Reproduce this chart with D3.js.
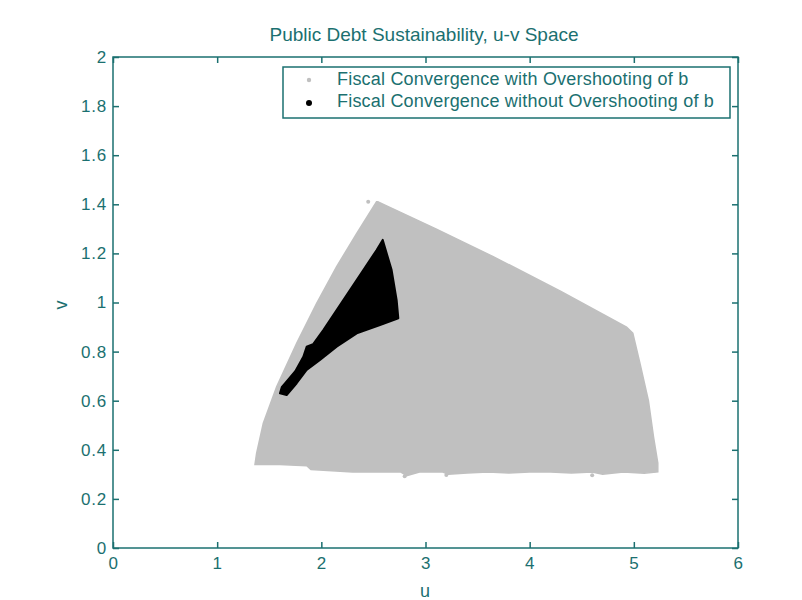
<!DOCTYPE html>
<html><head><meta charset="utf-8">
<script src="https://cdn.jsdelivr.net/npm/d3@7"></script>
<style>body{margin:0;background:#fff;} text{font-family:"Liberation Sans",Arial,sans-serif;}</style>
</head><body>
<svg id="chart" width="802" height="600"></svg>
<script>
// ---- data ----
const xTicks = [0,1,2,3,4,5,6];
const yTicks = [0,0.2,0.4,0.6,0.8,1,1.2,1.4,1.6,1.8,2];
const yTickLabels = ["0","0.2","0.4","0.6","0.8","1","1.2","1.4","1.6","1.8","2"];
const seriesNames = ["Fiscal Convergence with Overshooting of b","Fiscal Convergence without Overshooting of b"];
// boundary of the "with overshooting" point cloud (u, v)
const grayU = [2.545,3.10,3.65,4.30,4.93,4.99,5.06,5.14,5.19,5.23,5.23,5.10,4.90,4.70,4.60,4.40,4.20,4.00,3.80,3.60,3.40,3.22,3.16,2.95,2.82,2.76,2.50,2.30,2.10,1.90,1.86,1.60,1.363,1.379,1.443,1.571,1.763,1.955,2.147,2.34,2.53];
const grayV = [1.410,1.300,1.187,1.045,0.900,0.875,0.750,0.600,0.450,0.346,0.310,0.305,0.310,0.300,0.310,0.305,0.310,0.310,0.305,0.310,0.305,0.300,0.310,0.310,0.295,0.310,0.310,0.310,0.315,0.320,0.335,0.340,0.340,0.386,0.508,0.657,0.834,0.997,1.146,1.282,1.410];
// stray points of the "with overshooting" series
const strayU = [2.45,2.80,3.20,4.60];
const strayV = [1.41,0.292,0.297,0.296];
// boundary of the "without overshooting" point cloud (u, v)
const blackU = [2.589,2.675,2.723,2.739,2.563,2.34,2.147,1.987,1.859,1.763,1.667,1.603,1.62,1.651,1.75,1.827,1.859,1.92,2.019,2.211,2.403,2.531];
const blackV = [1.255,1.132,1.010,0.936,0.908,0.874,0.820,0.766,0.725,0.671,0.623,0.630,0.655,0.671,0.720,0.779,0.820,0.830,0.888,1.010,1.132,1.214];

// ---- drawing ----
const axisColor = "#1b7070";
const grayColor = "#c0c0c0";
const svg = d3.select("#chart");
const L=113, R=738, T=57, B=548;
const x = d3.scaleLinear().domain([0,6]).range([L,R]);
const y = d3.scaleLinear().domain([0,2]).range([B,T]);

const line = d3.line().x(d=>x(d[0])).y(d=>y(d[1])).curve(d3.curveLinearClosed);
const grayPts = grayU.map((u,i)=>[u,grayV[i]]);
const blackPts = blackU.map((u,i)=>[u,blackV[i]]);

svg.append("path").attr("d",line(grayPts)).attr("fill",grayColor).attr("stroke",grayColor).attr("stroke-width",1.5);
svg.selectAll("circle.stray").data(strayU.map((u,i)=>[u,strayV[i]])).enter().append("circle")
  .attr("class","stray").attr("cx",d=>x(d[0])).attr("cy",d=>y(d[1])).attr("r",2).attr("fill",grayColor);
svg.append("path").attr("d",line(blackPts)).attr("fill","#000").attr("stroke","#000").attr("stroke-width",2).attr("stroke-linejoin","round");

// axes box
svg.append("rect").attr("x",L).attr("y",T).attr("width",R-L).attr("height",B-T)
  .attr("fill","none").attr("stroke",axisColor).attr("stroke-width",1.5);

function styleAxis(g){
  g.select(".domain").remove();
  g.selectAll(".tick line").attr("stroke",axisColor).attr("stroke-width",1.5);
  g.selectAll(".tick text").attr("fill",axisColor).style("font-size","17px").style("letter-spacing","0.8px")
    .style("font-family","'Liberation Sans',Arial,sans-serif");
}
svg.append("g").attr("transform",`translate(0,${B})`)
  .call(d3.axisBottom(x).tickValues(xTicks).tickFormat(d3.format("d")).tickSize(-6).tickPadding(9)).call(styleAxis);
svg.append("g").attr("transform",`translate(0,${T})`)
  .call(d3.axisTop(x).tickValues(xTicks).tickFormat("").tickSize(-6)).call(styleAxis);
svg.append("g").attr("transform",`translate(${L},0)`)
  .call(d3.axisLeft(y).tickValues(yTicks).tickFormat((d,i)=>yTickLabels[i]).tickSize(-6).tickPadding(6)).call(styleAxis);
svg.append("g").attr("transform",`translate(${R},0)`)
  .call(d3.axisRight(y).tickValues(yTicks).tickFormat("").tickSize(-6)).call(styleAxis);

// title and labels
svg.append("text").attr("x",424).attr("y",41).attr("text-anchor","middle").attr("fill",axisColor)
  .style("font-size","19px").text("Public Debt Sustainability, u-v Space");
svg.append("text").attr("x",425).attr("y",597).attr("text-anchor","middle").attr("fill",axisColor)
  .style("font-size","18px").text("u");
svg.append("text").attr("transform",`translate(67,305) rotate(-90)`).attr("text-anchor","middle").attr("fill",axisColor)
  .style("font-size","18px").text("v");

// legend
const lg = svg.append("g");
lg.append("rect").attr("x",283).attr("y",67).attr("width",447).attr("height",51)
  .attr("fill","#fff").attr("stroke",axisColor).attr("stroke-width",1.5);
const rows = [{c:grayColor,r:2.2,name:seriesNames[0]},{c:"#000",r:3,name:seriesNames[1]}];
rows.forEach((d,i)=>{
  const yy = 80 + i*23;
  lg.append("circle").attr("cx",309).attr("cy",yy).attr("r",d.r).attr("fill",d.c);
  lg.append("text").attr("x",337).attr("y",85 + i*22).attr("fill",axisColor)
    .style("font-size","18px").style("letter-spacing","0.2px").text(d.name);
});
</script>
</body></html>
